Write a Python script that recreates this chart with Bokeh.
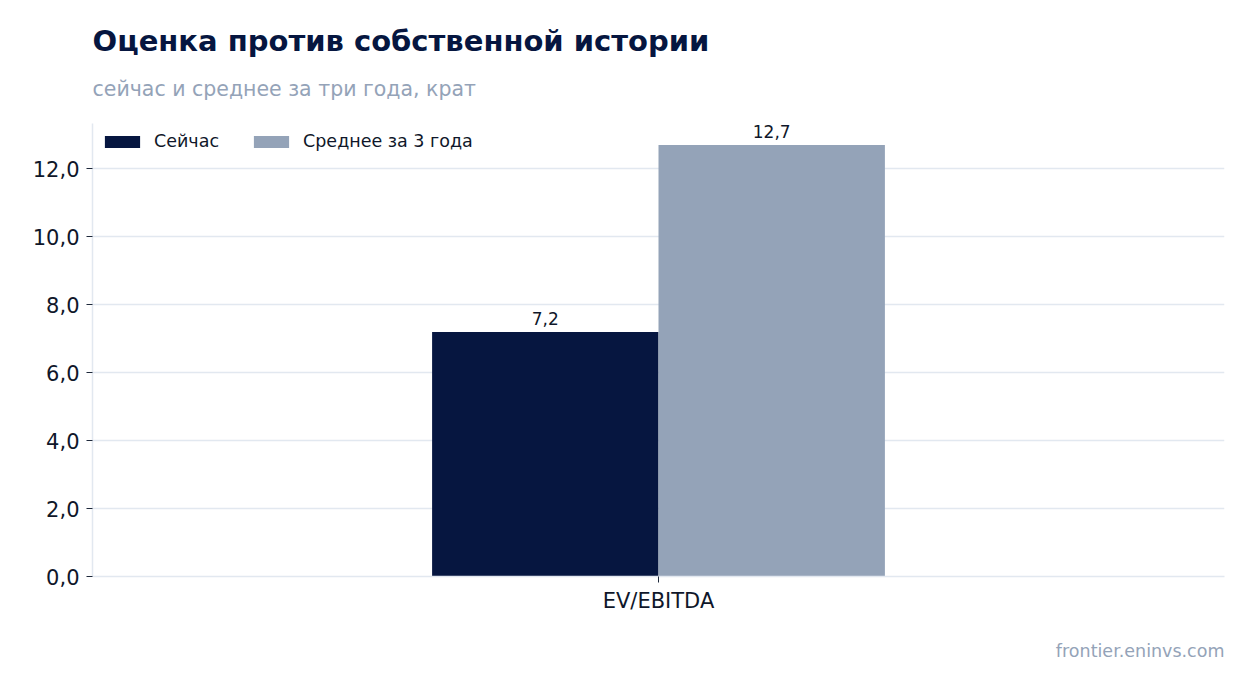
from bokeh.plotting import figure
from bokeh.models import (ColumnDataSource, FactorRange, Range1d, Title, Legend, LegendItem,
                          LabelSet, CustomJSTickFormatter, SingleIntervalTicker)
from bokeh.core.properties import value
from bokeh.transform import dodge
from bokeh.embed import file_html
from bokeh.resources import INLINE

categories = ["EV/EBITDA"]
series_names = ["Сейчас", "Среднее за 3 года"]
now_values = [7.2]
avg3y_values = [12.7]
colors = ["#061640", "#94a3b8"]

FONT = "DejaVu Sans"

src = ColumnDataSource(dict(
    cat=categories,
    now=now_values,
    avg=avg3y_values,
    now_lbl=[f"{v:.1f}".replace(".", ",") for v in now_values],
    avg_lbl=[f"{v:.1f}".replace(".", ",") for v in avg3y_values],
))

p = figure(x_range=FactorRange(*categories, range_padding=0),
           y_range=Range1d(0, max(avg3y_values) * 1.05),
           width=1238, height=683, output_backend="svg", toolbar_location=None,
           min_border_left=92, min_border_right=14, min_border_top=123, min_border_bottom=107)

p.title.text = "Оценка против собственной истории"
p.title.text_font = FONT
p.title.text_font_size = "29px"
p.title.text_font_style = "bold"
p.title.text_color = "#061640"
p.title.align = "left"
p.title.standoff = -12

sub = Title(text="сейчас и среднее за три года, крат", text_font=FONT, text_font_size="20.5px",
            text_font_style="normal", text_color="#94a3b8", align="left", standoff=46)
p.add_layout(sub, "above")

r1 = p.vbar(x=dodge("cat", -0.1, range=p.x_range), top="now", width=0.2, source=src,
            fill_color=colors[0], line_color=None)
r2 = p.vbar(x=dodge("cat", 0.1, range=p.x_range), top="avg", width=0.2, source=src,
            fill_color=colors[1], line_color=None)

lab1 = LabelSet(x=dodge("cat", -0.1, range=p.x_range), y="now", text="now_lbl", source=src,
                text_align="center", y_offset=7, text_font_size="17px", text_font=value(FONT),
                text_color="#0f172a")
lab2 = LabelSet(x=dodge("cat", 0.1, range=p.x_range), y="avg", text="avg_lbl", source=src,
                text_align="center", y_offset=7, text_font_size="17px", text_font=value(FONT),
                text_color="#0f172a")
p.add_layout(lab1)
p.add_layout(lab2)

legend = Legend(items=[LegendItem(label=series_names[0], renderers=[r1]),
                       LegendItem(label=series_names[1], renderers=[r2])],
                location="top_left", orientation="horizontal",
                label_text_font=FONT, label_text_font_size="17.5px", label_text_color="#0f172a",
                background_fill_alpha=0, border_line_color=None, label_standoff=10,
                glyph_width=44, glyph_height=15, spacing=30, margin=8, padding=6)
p.add_layout(legend)

p.yaxis.ticker = SingleIntervalTicker(interval=2)
p.yaxis.formatter = CustomJSTickFormatter(code="return tick.toFixed(1).replace('.', ',');")
for ax in (p.xaxis, p.yaxis):
    ax.axis_line_color = "#e2e8f0"
    ax.axis_line_width = 1.5
    ax.major_tick_line_color = "#1e293b"
    ax.major_tick_out = 6
    ax.major_tick_in = 0
    ax.minor_tick_line_color = None
    ax.major_label_text_font = FONT
    ax.major_label_text_font_size = "21px"
    ax.major_label_text_color = "#0f172a"
p.xaxis.major_label_standoff = 6
p.yaxis.major_label_standoff = 7

p.xgrid.grid_line_color = None
p.ygrid.grid_line_color = "#e2e8f0"
p.ygrid.grid_line_width = 1.5
p.outline_line_color = None

src_title = Title(text="frontier.eninvs.com", text_font=FONT, text_font_size="17.5px",
                  text_font_style="normal", text_color="#94a3b8", align="right", standoff=46)
p.add_layout(src_title, "below")

open("out.html", "w").write(file_html(p, INLINE))
